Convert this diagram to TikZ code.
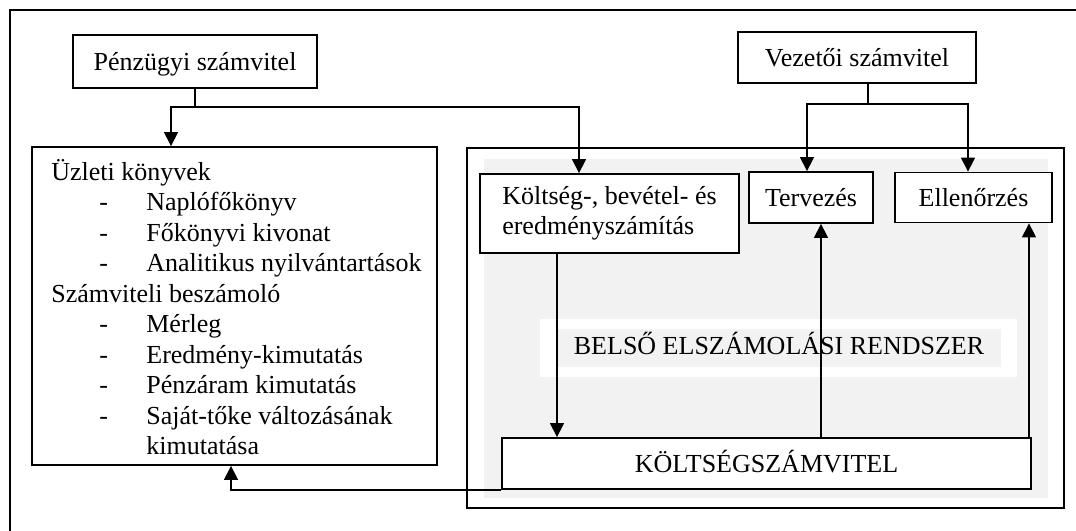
\documentclass[tikz,border=0pt]{standalone}
\usepackage{fontspec}
\setmainfont{Liberation Serif}
\usetikzlibrary{arrows.meta,calc}
\definecolor{panel}{RGB}{242,242,242}
\newcommand\listitem[1]{\hspace*{24pt}\makebox[23.5pt][l]{-}#1}
\tikzset{
  box/.style={draw, line width=0.9pt, fill=white, inner sep=0pt},
  onebox/.style={box, text height=9pt, text depth=0pt},
  frame/.style={draw, line width=1pt},
  link/.style={line width=0.65pt},
  arr/.style={link, -{Triangle[length=7pt,width=7pt]}},
}
\begin{document}
\begin{tikzpicture}[x=0.5pt,y=-0.5pt,font=\fontsize{13}{15.25}\selectfont]
\useasboundingbox (0,0) rectangle (1076,530);
\clip (0,0) rectangle (1076,530);

% outer frame
\draw[frame] (10,10) rectangle (1090,545);

% internal accounting system: frame, grey panel, title band
\draw[frame] (467,148) rectangle (1064,508);
\fill[panel] (484,159) rectangle (1048,498);
\fill[white] (540,319) rectangle (1017,377);
\fill[panel] (558,329) rectangle (1001,367);
\node[anchor=base, inner sep=0pt] (bel) at (779,354) {BELSŐ ELSZÁMOLÁSI RENDSZER};

% boxes
\node[onebox, minimum width=122pt, minimum height=26.5pt] (pf) at (195,61.5) {Pénzügyi számvitel};
\node[onebox, minimum width=119pt, minimum height=25.5pt] (vz) at (857,57.5) {Vezetői számvitel};
\node[box, minimum width=202.5pt, minimum height=159pt] (uz) at (234.5,306) {};
\node[anchor=base west, inner sep=0pt] (uztext) at (51,180) {%
  \begin{tabular}[t]{@{}l@{}}
  Üzleti könyvek\\
  \listitem{Naplófőkönyv}\\
  \listitem{Főkönyvi kivonat}\\
  \listitem{Analitikus nyilvántartások}\\
  Számviteli beszámoló\\
  \listitem{Mérleg}\\
  \listitem{Eredmény-kimutatás}\\
  \listitem{Pénzáram kimutatás}\\
  \listitem{Saját-tőke változásának}\\
  \hspace*{47.5pt}kimutatása
  \end{tabular}};
\node[box, align=left, minimum width=129.5pt, minimum height=39.5pt] (kb) at (609.5,213.5)
  {Költség-, bevétel- és\\eredményszámítás};
\node[onebox, minimum width=62pt, minimum height=25.5pt] (tv) at (811,197.5) {Tervezés};
\node[onebox, minimum width=78.5pt, minimum height=25pt] (el) at (973.5,197.5) {Ellenőrzés};
\node[onebox, minimum width=264.5pt, minimum height=25.5pt] (ksz) at (766.5,463.5) {KÖLTSÉGSZÁMVITEL};

% connectors from the financial accounting box
\coordinate (pfj) at (pf.south |- 0,107);
\draw[link] (pf.south) -- (pfj);
\draw[arr] (pfj) -| (171,0 |- uz.north);
\draw[arr] (pfj) -| (579,0 |- kb.north);

% connectors from the management accounting box
\coordinate (vzj) at (868,104);
\draw[link] (868,0 |- vz.south) -- (vzj);
\draw[arr] (vzj) -| (807,0 |- tv.north);
\draw[arr] (vzj) -| (968,0 |- el.north);

% flows inside the internal system
\draw[arr] (557,0 |- kb.south) -- (557,0 |- ksz.north);
\draw[arr] (821,0 |- ksz.north) -- (821,0 |- tv.south);
\draw[arr] (1029,0 |- ksz.north) -- (1029,0 |- el.south);
\draw[arr] (ksz.south west) -| (231,0 |- uz.south);
\end{tikzpicture}
\end{document}
